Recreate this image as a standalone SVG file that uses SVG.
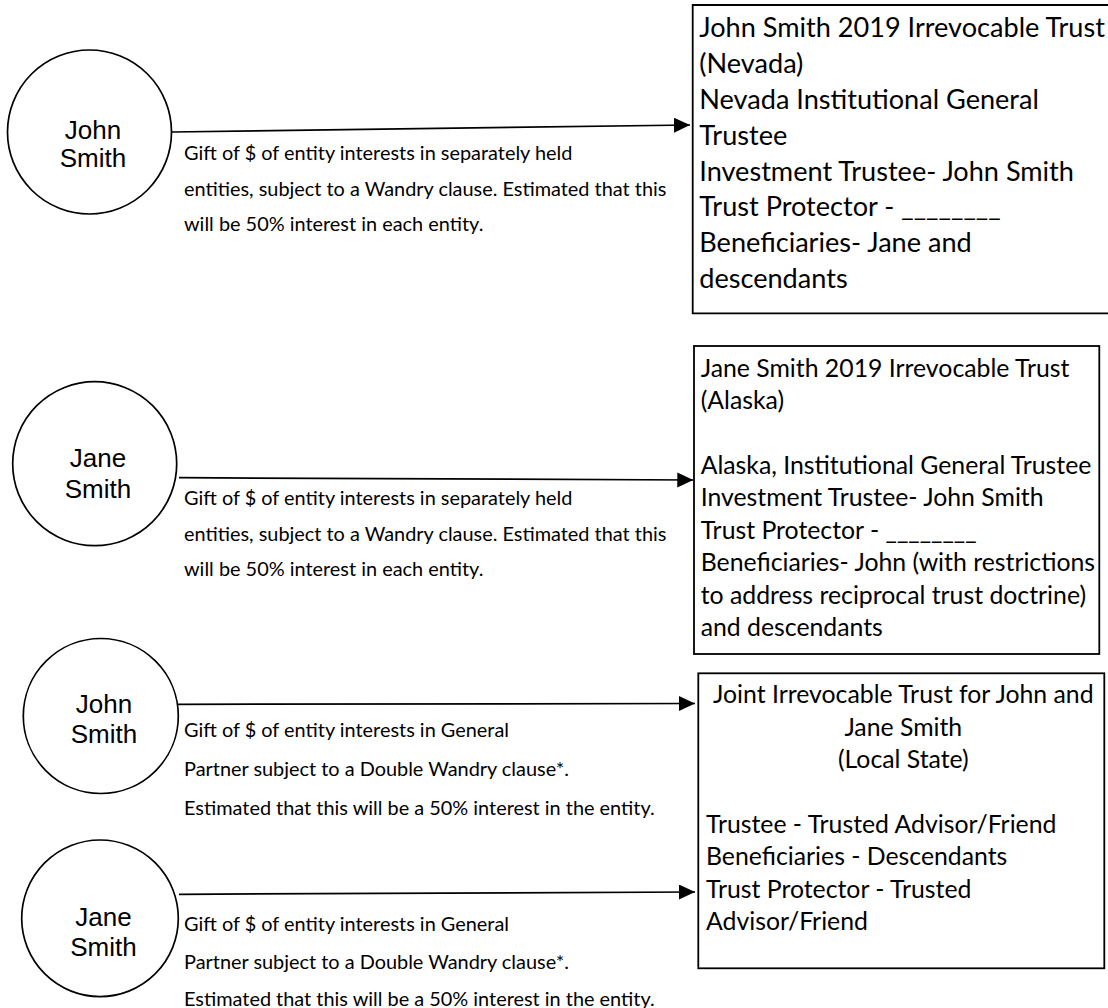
<svg xmlns="http://www.w3.org/2000/svg" width="1108" height="1008" viewBox="0 0 1108 1008">
  <style>
    .person { fill: #ffffff; stroke: #000000; stroke-width: 1.7; }
    .box { fill: #ffffff; stroke: #000000; stroke-width: 1.8; }
    .name { font-family: "Liberation Sans", Arial, sans-serif; font-size: 26px; fill: #000000; text-anchor: middle; }
    .gift { font-family: Lato, "Open Sans", sans-serif; font-size: 19.9px; fill: #000000; }
    .big { font-family: Lato, "Open Sans", sans-serif; font-size: 27.1px; fill: #000000; }
    .mid { font-family: Lato, "Open Sans", sans-serif; font-size: 24.8px; fill: #000000; }
    .ctr { text-anchor: middle; }
    .flow { fill: none; stroke: #000000; stroke-width: 1.7; marker-end: url(#head); }
  </style>
  <defs>
    <marker id="head" markerUnits="userSpaceOnUse" markerWidth="17" markerHeight="16" refX="16" refY="7.5" orient="auto">
      <path d="M0,0 L16,7.5 L0,15 Z" fill="#000000"/>
    </marker>
  </defs>

  <rect width="1108" height="1008" fill="#ffffff"/>

  <!-- gifts from the grantors to the trusts -->
  <g id="connectors">
    <path class="flow" d="M172,132 L690,125"/>
    <path class="flow" d="M179,477.7 L693.3,480"/>
    <path class="flow" d="M178,704.3 L695,703.5"/>
    <path class="flow" d="M179,894.3 L695,892"/>
  </g>

  <!-- grantors -->
  <g id="john-1">
    <circle class="person" cx="89.5" cy="132" r="82"/>
    <text class="name" x="93" y="139">John</text>
    <text class="name" x="93" y="167">Smith</text>
  </g>
  <g id="jane-1">
    <circle class="person" cx="94.7" cy="463.7" r="82"/>
    <text class="name" x="98" y="466.7">Jane</text>
    <text class="name" x="98" y="497.7">Smith</text>
  </g>
  <g id="john-2">
    <circle class="person" cx="100.8" cy="716" r="77.5"/>
    <text class="name" x="104" y="713">John</text>
    <text class="name" x="104" y="743">Smith</text>
  </g>
  <g id="jane-2">
    <circle class="person" cx="100" cy="918.3" r="78.3"/>
    <text class="name" x="103.5" y="926">Jane</text>
    <text class="name" x="103.5" y="956">Smith</text>
  </g>

  <!-- gift descriptions -->
  <g id="gift-john-1" class="gift">
    <text x="184" y="160">Gift of $ of entity interests in separately held</text>
    <text x="184" y="195.5">entities, subject to a Wandry clause. Estimated that this</text>
    <text x="184" y="231">will be 50% interest in each entity.</text>
  </g>
  <g id="gift-jane-1" class="gift">
    <text x="184" y="505">Gift of $ of entity interests in separately held</text>
    <text x="184" y="540.5">entities, subject to a Wandry clause. Estimated that this</text>
    <text x="184" y="576">will be 50% interest in each entity.</text>
  </g>
  <g id="gift-john-2" class="gift">
    <text x="184" y="737">Gift of $ of entity interests in General</text>
    <text x="184" y="776">Partner subject to a Double Wandry clause*.</text>
    <text x="184" y="815">Estimated that this will be a 50% interest in the entity.</text>
  </g>
  <g id="gift-jane-2" class="gift">
    <text x="184" y="931">Gift of $ of entity interests in General</text>
    <text x="184" y="969">Partner subject to a Double Wandry clause*.</text>
    <text x="184" y="1006">Estimated that this will be a 50% interest in the entity.</text>
  </g>

  <!-- trusts -->
  <g id="trust-nevada">
    <path class="box" d="M1115,5 L692.7,5 L692.7,313.3 L1115,313.3"/>
    <g class="big">
      <text x="699.3" y="37.3">John Smith 2019 Irrevocable Trust</text>
      <text x="699.3" y="73.1">(Nevada)</text>
      <text x="699.3" y="108.9">Nevada Institutional General</text>
      <text x="699.3" y="144.7">Trustee</text>
      <text x="699.3" y="180.5">Investment Trustee- John Smith</text>
      <text x="699.3" y="216.3">Trust Protector - ________</text>
      <text x="699.3" y="252.1">Beneficiaries- Jane and</text>
      <text x="699.3" y="287.9">descendants</text>
    </g>
  </g>
  <g id="trust-alaska">
    <rect class="box" x="694" y="346" width="405.3" height="308"/>
    <g class="mid">
      <text x="700.7" y="376.7">Jane Smith 2019 Irrevocable Trust</text>
      <text x="700.7" y="409.1">(Alaska)</text>
      <text x="700.7" y="473.9">Alaska, Institutional General Trustee</text>
      <text x="700.7" y="506.3">Investment Trustee- John Smith</text>
      <text x="700.7" y="538.7">Trust Protector - ________</text>
      <text x="700.7" y="571.1">Beneficiaries- John (with restrictions</text>
      <text x="700.7" y="603.5">to address reciprocal trust doctrine)</text>
      <text x="700.7" y="635.9">and descendants</text>
    </g>
  </g>
  <g id="trust-joint">
    <rect class="box" x="698.3" y="673.3" width="406" height="295"/>
    <g class="mid">
      <text class="ctr" x="903.3" y="703.3">Joint Irrevocable Trust for John and</text>
      <text class="ctr" x="903.3" y="735.7">Jane Smith</text>
      <text class="ctr" x="903.3" y="768.1">(Local State)</text>
      <text x="706" y="832.9">Trustee - Trusted Advisor/Friend</text>
      <text x="706" y="865.3">Beneficiaries - Descendants</text>
      <text x="706" y="897.7">Trust Protector - Trusted</text>
      <text x="706" y="930.1">Advisor/Friend</text>
    </g>
  </g>
</svg>
